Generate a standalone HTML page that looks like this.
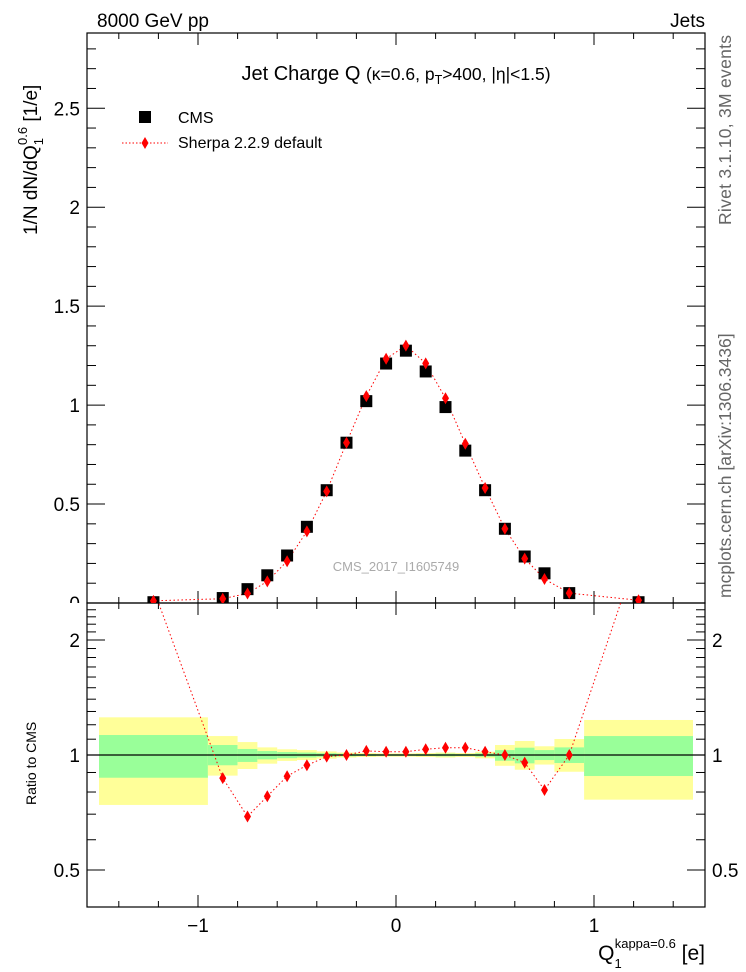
<!DOCTYPE html>
<html><head><meta charset="utf-8"><style>
body{margin:0;background:#fff}
svg{display:block;font-family:"Liberation Sans",sans-serif}
</style></head><body>
<svg id="c" width="746" height="972" viewBox="0 0 746 972">
<text x="97" y="27" font-size="19">8000 GeV pp</text>
<text x="705" y="27" font-size="19" text-anchor="end">Jets</text>
<text x="396" y="80" font-size="20" text-anchor="middle">Jet Charge Q  <tspan font-size="17.5">(κ=0.6, p<tspan font-size="12.5" dy="4">T</tspan><tspan dy="-4">&gt;400, |η|&lt;1.5)</tspan></tspan></text>
<text x="396" y="571" font-size="13" fill="#aaa" text-anchor="middle">CMS_2017_I1605749</text>
<text transform="translate(731,225) rotate(-90)" font-size="17.5" fill="#666" textLength="190" lengthAdjust="spacing">Rivet 3.1.10,  3M events</text>
<text transform="translate(731,598) rotate(-90)" font-size="17.5" fill="#666">mcplots.cern.ch [arXiv:1306.3436]</text>
<text transform="translate(37,235) rotate(-90)" font-size="19">1/N dN/dQ<tspan font-size="13" dy="6">1</tspan><tspan font-size="13" dx="-7" dy="-16">0.6</tspan><tspan dy="10"> [1/e]</tspan></text>
<text transform="translate(36,805) rotate(-90)" font-size="14">Ratio to CMS</text>
<text x="705" y="960" font-size="21" text-anchor="end">Q<tspan font-size="13" dy="8">1</tspan><tspan font-size="13" dx="-7" dy="-20">kappa=0.6</tspan><tspan dy="12"> [e]</tspan></text>
<g>
<rect x="139" y="111" width="12" height="12" fill="#000"/>
<text x="178" y="123" font-size="16">CMS</text>
<line x1="122" y1="143" x2="168" y2="143" stroke="red" stroke-dasharray="1.5,2"/>
<path d="M145 137 L148.5 143 L145 149 L141.5 143Z" fill="red"/>
<text x="178" y="148" font-size="16">Sherpa 2.2.9 default</text>
</g>
<g id="g"></g>
</svg>
<script>
const binEdges=[-1.5,-0.95,-0.8,-0.7,-0.6,-0.5,-0.4,-0.3,-0.2,-0.1,0,0.1,0.2,0.3,0.4,0.5,0.6,0.7,0.8,0.95,1.5];
const cmsValues=[0.004,0.025,0.07,0.14,0.24,0.385,0.57,0.81,1.02,1.21,1.275,1.17,0.99,0.77,0.57,0.375,0.235,0.15,0.05,0.004];
const sherpaRatio=[2.72,0.87,0.69,0.78,0.88,0.94,0.99,1.0,1.025,1.02,1.02,1.035,1.045,1.045,1.02,1.0,0.955,0.81,1.0,3.44];
const yellowUp=[1.255,1.121,1.081,1.047,1.035,1.03,1.022,1.015,1.012,1.01,1.01,1.012,1.015,1.012,1.02,1.062,1.088,1.054,1.101,1.235];
const yellowDn=[0.74,0.883,0.919,0.949,0.965,0.97,0.978,0.985,0.988,0.99,0.99,0.988,0.985,0.988,0.98,0.937,0.915,0.944,0.904,0.764];
const greenUp=[1.128,1.062,1.037,1.024,1.018,1.015,1.011,1.008,1.006,1.005,1.005,1.006,1.008,1.006,1.01,1.03,1.045,1.03,1.047,1.121];
const greenDn=[0.872,0.94,0.959,0.974,0.981,0.985,0.989,0.992,0.994,0.995,0.995,0.994,0.992,0.994,0.99,0.966,0.951,0.97,0.953,0.881];
const mainTicks=["0","0.5","1","1.5","2","2.5"];
const ratioTicks=["0.5","1","2"];
const xTicks=["−1","0","1"];

const NS="http://www.w3.org/2000/svg";
const G=document.getElementById('g');
const X0=87,X1=705,MT=33,MB=603,RB=907;
const xs=v=>396+v*198;
const ym=v=>603-v*197.9;
const yr=v=>755-Math.log10(v)*382;
function mk(t,a,p){const e=document.createElementNS(NS,t);for(const k in a)e.setAttribute(k,a[k]);(p||G).appendChild(e);return e;}
const sherpaValues=cmsValues.map((c,i)=>c*sherpaRatio[i]);
const centers=cmsValues.map((c,i)=>(binEdges[i]+binEdges[i+1])/2);

const clip=mk('clipPath',{id:'rc'});mk('rect',{x:X0,y:MB,width:X1-X0,height:RB-MB},clip);
const cm=mk('clipPath',{id:'mc'});mk('rect',{x:X0,y:MT,width:X1-X0,height:MB-MT},cm);
for(let i=0;i<cmsValues.length;i++){
 const x=xs(binEdges[i]),w=xs(binEdges[i+1])-x;
 let r=mk('rect',{x:x,y:yr(yellowUp[i]),width:w,height:yr(yellowDn[i])-yr(yellowUp[i]),fill:'#ffff99'});
 
 
 r=mk('rect',{x:x,y:yr(greenUp[i]),width:w,height:yr(greenDn[i])-yr(greenUp[i]),fill:'#99ff99'});
 
 
}
let u=mk('line',{x1:X0,x2:X1,y1:yr(1),y2:yr(1),stroke:'#000','stroke-width':1.2});



let f=mk('rect',{x:X0,y:MT,width:X1-X0,height:MB-MT,fill:'none',stroke:'#000','stroke-width':1.2});


f=mk('rect',{x:X0,y:MB,width:X1-X0,height:RB-MB,fill:'none',stroke:'#000','stroke-width':1.2});



for(let k=-15;k<=15;k++){const v=k/10;if(k%2!==0&&k%10!==0)continue;const maj=k%10===0;const x=xs(v);const L=maj?12:6;
 [[MT,1],[MB,-1],[MB,1],[RB,-1]].forEach(([y,d])=>mk('line',{x1:x,x2:x,y1:y,y2:y+d*L,stroke:'#000'}));}
[-1,0,1].forEach((v,i)=>{const t=mk('text',{x:xs(v),y:932,'font-size':19,'text-anchor':'middle'});t.textContent=xTicks[i];
 
 });
for(let k=0;k<=28;k++){const v=k/10,y=ym(v),maj=k%5===0,L=maj?18:9;
 mk('line',{x1:X0,x2:X0+L,y1:y,y2:y,stroke:'#000'});mk('line',{x1:X1,x2:X1-L,y1:y,y2:y,stroke:'#000'});}
const zc=mk('clipPath',{id:'zc'});mk('rect',{x:0,y:0,width:90,height:MB},zc);
mainTicks.forEach((s,i)=>{const a={x:80,y:ym(i*0.5)+7,'font-size':19,'text-anchor':'end'};if(i==0)a['clip-path']='url(#zc)';const t=mk('text',a);t.textContent=s;
 
 });
const rv=[0.4,0.5,0.6,0.7,0.8,0.9,1,1.1,1.2,1.3,1.4,1.5,1.6,1.7,1.8,1.9,2,2.1,2.2,2.3,2.4,2.5];
rv.forEach(v=>{const y=yr(v);const maj=(v===0.5||v===1||v===2);const L=maj?18:9;
 mk('line',{x1:X0,x2:X0+L,y1:y,y2:y,stroke:'#000'});mk('line',{x1:X1,x2:X1-L,y1:y,y2:y,stroke:'#000'});});
[0.5,1,2].forEach((v,i)=>{[80,712].forEach(x=>{const t=mk('text',{x:x,y:yr(v)+7,'font-size':19,'text-anchor':x<100?'end':'start'});t.textContent=ratioTicks[i];
 
 });});

let pl=mk('polyline',{points:centers.map((c,i)=>xs(c)+','+ym(sherpaValues[i])).join(' '),fill:'none',stroke:'red','stroke-dasharray':'1.5,2.5','clip-path':'url(#mc)'});


centers.forEach((c,i)=>{const x=xs(c),y=ym(cmsValues[i]);
 const r=mk('rect',{x:x-6,y:y-6,width:12,height:12,fill:'#000','clip-path':'url(#mc)'});
 
 });
centers.forEach((c,i)=>{const x=xs(c),y=ym(sherpaValues[i]);
 const d=mk('path',{d:`M${x} ${y-6}L${x+3.5} ${y}L${x} ${y+6}L${x-3.5} ${y}Z`,fill:'red','clip-path':'url(#mc)'});
 
 });
pl=mk('polyline',{points:centers.map((c,i)=>xs(c)+','+yr(sherpaRatio[i])).join(' '),fill:'none',stroke:'red','stroke-dasharray':'1.5,2.5','clip-path':'url(#rc)'});


centers.forEach((c,i)=>{const x=xs(c),y=yr(sherpaRatio[i]);
 const d=mk('path',{d:`M${x} ${y-6}L${x+3.5} ${y}L${x} ${y+6}L${x-3.5} ${y}Z`,fill:'red','clip-path':'url(#rc)'});
 
 });
</script>
</body></html>
